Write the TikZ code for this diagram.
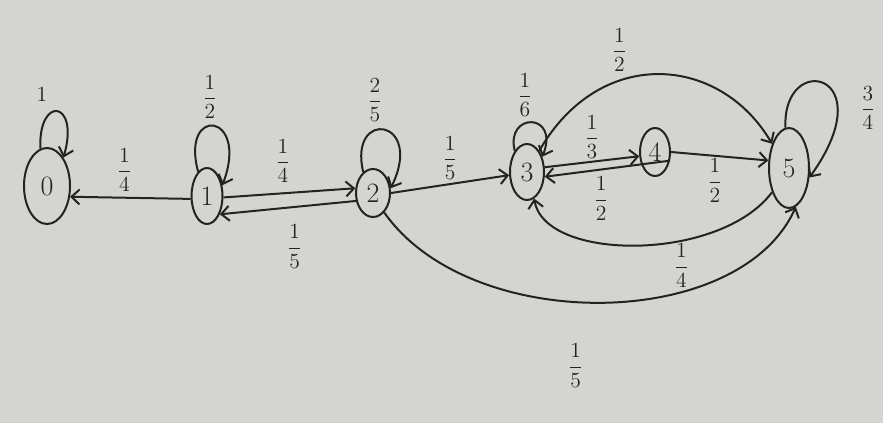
\documentclass[tikz,border=0pt]{standalone}
\usetikzlibrary{shapes.geometric,arrows.meta}
\definecolor{paper}{RGB}{212,212,208}
\definecolor{ink}{RGB}{35,35,35}
\begin{document}
\begin{tikzpicture}[x=1pt,y=-1pt,
 state/.style={ellipse,draw=ink,line width=2pt,inner sep=0pt,font=\fontsize{28}{28}\selectfont,text=ink},
 tr/.style={draw=ink,line width=2pt,-{Straight Barb[length=8pt,width=15pt]}},
 lab/.style={font=\Large,text=ink,scale=1.5,inner sep=1pt}]
\useasboundingbox (0,0) rectangle (895,434);
\fill[white] (0,0) rectangle (895,434);
\fill[paper] (0,0) rectangle (883,423);
\node[state,minimum width=46,minimum height=76] (s0) at (47,186) {0};
\node[state,minimum width=31,minimum height=56] (s1) at (207,196) {1};
\node[state,minimum width=34,minimum height=48] (s2) at (373,193) {2};
\node[state,minimum width=34,minimum height=56] (s3) at (527,172) {3};
\node[state,minimum width=30,minimum height=48] (s4) at (655,152) {4};
\node[state,minimum width=40,minimum height=80] (s5) at (789,168) {5};
% self loops
\draw[tr] (s0.100) .. controls (38,95) and (80,100) .. (s0.60);
\node[lab] (l00) at (42,95) {$1$};
\draw[tr] (s1.110) .. controls (180,105) and (250,112) .. (s1.35);
\node[lab] (l11) at (210,97) {$\displaystyle\frac12$};
\draw[tr] (s2.115) .. controls (348,108) and (425,118) .. (s2.15);
\node[lab] (l22) at (375,100) {$\displaystyle\frac25$};
\draw[tr] (s3.120) .. controls (505,112) and (560,112) .. (s3.45);
\node[lab] (l33) at (525,95) {$\displaystyle\frac16$};
\draw[tr] (s5.95) .. controls (782,50) and (885,72) .. (s5.-25);
\node[lab] (l55) at (868,108) {$\displaystyle\frac34$};
% straight transitions
\draw[tr] (s1.190) -- node[lab,above=2pt,pos=0.55]{$\displaystyle\frac14$} (s0.-25);
\draw[tr] (s1.-5) -- node[lab,above=5pt,pos=0.45]{$\displaystyle\frac14$} (s2.165);
\draw[tr] (s2.205) -- node[lab,below=10pt,pos=0.45]{$\displaystyle\frac15$} (s1.-55);
\draw[tr] (s2.east) -- node[lab,above=1pt]{$\displaystyle\frac15$} (s3.190);
\draw[tr] (s3.15) -- node[lab,above=0pt]{$\displaystyle\frac13$} (s4.195);
\draw[tr] (s4.-30) -- node[lab,below=3pt,pos=0.55]{$\displaystyle\frac12$} (s3.-15);
\draw[tr] (s4.east) -- node[lab,below=0pt,pos=0.45]{$\displaystyle\frac12$} (s5.160);
% curved transitions
\draw[tr] (s3.60) .. controls (600,45) and (720,55) .. node[lab,above=4pt,pos=0.35]{$\displaystyle\frac12$} (s5.125);
\draw[tr] (s5.235) .. controls (720,262) and (545,262) .. node[lab,below=0pt,pos=0.36]{$\displaystyle\frac14$} (s3.-75);
\draw[tr] (s2.-60) .. controls (470,335) and (740,332) .. node[lab,below=26pt,pos=0.45]{$\displaystyle\frac15$} (s5.-80);
\end{tikzpicture}
\end{document}
